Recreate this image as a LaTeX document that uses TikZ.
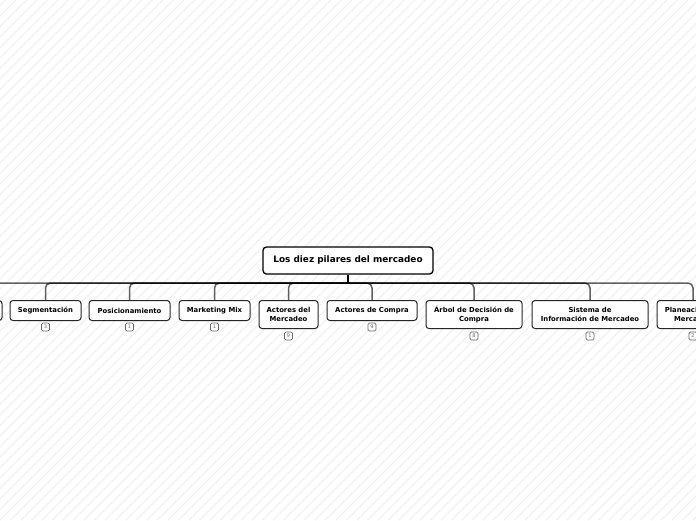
\documentclass[tikz,border=0pt]{standalone}
\usepackage{fontspec}
\setmainfont{DejaVu Sans}
\usetikzlibrary{calc}
\newfontfamily\dvbold{DejaVu Sans Bold}
\definecolor{bgline}{HTML}{F2F2F2}
\definecolor{badgegray}{HTML}{6A6A6A}
\tikzset{
  rootbox/.style={draw=black, line width=1.3pt, rounded corners=3.5pt, fill=white,
    minimum width=170pt, minimum height=27pt, inner sep=0pt,
    font=\dvbold\fontsize{8.9}{10}\selectfont},
  childbox/.style={draw=black!85, line width=1pt, rounded corners=3pt, fill=white,
    anchor=north, align=center, inner sep=0pt,
    font=\dvbold\fontsize{6.85}{9}\selectfont},
  onel/.style={minimum height=20pt},
  twol/.style={minimum height=28pt},
  conn/.style={draw=black, draw opacity=0.62, line width=1.5pt, rounded corners=5pt},
  stem/.style={draw=black, line width=1.7pt},
  badge/.style={draw=badgegray, line width=0.6pt, rounded corners=1.4pt, fill=white,
    minimum width=8pt, minimum height=8pt, inner sep=0pt, text=badgegray,
    font=\fontsize{5}{5}\selectfont},
  bgstroke/.style={draw=bgline, line width=1.1pt}
}
\begin{document}
\begin{tikzpicture}[x=1pt,y=1pt]
\useasboundingbox (0,0) rectangle (696,-520);
\begin{scope}
\clip (0,0) rectangle (696,-520);
\fill[white] (0,0) rectangle (696,-520);
\foreach \i in {-525,-514.5,...,700} {
  \draw[bgstroke] (\i,-520) -- ++(520,520);
}
% nodes
\node[rootbox] (root) at (348,-260.5) {Los diez pilares del mercadeo};
\coordinate (bm) at (348,-283);
\node[childbox, onel, minimum width=70pt] (c0) at (-33,-300) {};
\node[childbox, onel, minimum width=71pt] (c1) at (45.5,-300) {Segmentación};
\node[childbox, onel, minimum width=81pt] (c2) at (129.5,-300) {Posicionamiento};
\node[childbox, onel, minimum width=71pt] (c3) at (214.5,-300) {Marketing Mix};
\node[childbox, twol, minimum width=59pt] (c4) at (288.5,-300) {Actores del\\Mercadeo};
\node[childbox, onel, minimum width=90pt] (c5) at (372,-300) {Actores de Compra};
\node[childbox, twol, minimum width=96pt] (c6) at (474,-300) {Árbol de Decisión de\\Compra};
\node[childbox, twol, minimum width=116pt] (c7) at (590,-300) {Sistema de\\Información de Mercadeo};
\node[childbox, twol, minimum width=72pt] (c8) at (693,-300) {Planeación del\\Mercadeo};
% connectors
\draw[stem] (root.south) -- (bm);
\foreach \c in {c0,c1,c2,c3,c4,c5,c6,c7,c8} {
  \draw[conn] (bm) -| (\c.north);
}
% badges
\node[badge] (b1) at ($(c1.south)+(0,-6)$) {3};
\node[badge] (b2) at ($(c2.south)+(0,-6)$) {1};
\node[badge] (b3) at ($(c3.south)+(0,-6)$) {1};
\node[badge] (b4) at ($(c4.south)+(0,-7)$) {9};
\node[badge] (b5) at ($(c5.south)+(0,-6)$) {9};
\node[badge] (b6) at ($(c6.south)+(0,-7)$) {8};
\node[badge] (b7) at ($(c7.south)+(0,-7)$) {1};
\node[badge] (b8) at ($(c8.south)+(0,-7)$) {2};
\end{scope}
\end{tikzpicture}
\end{document}
